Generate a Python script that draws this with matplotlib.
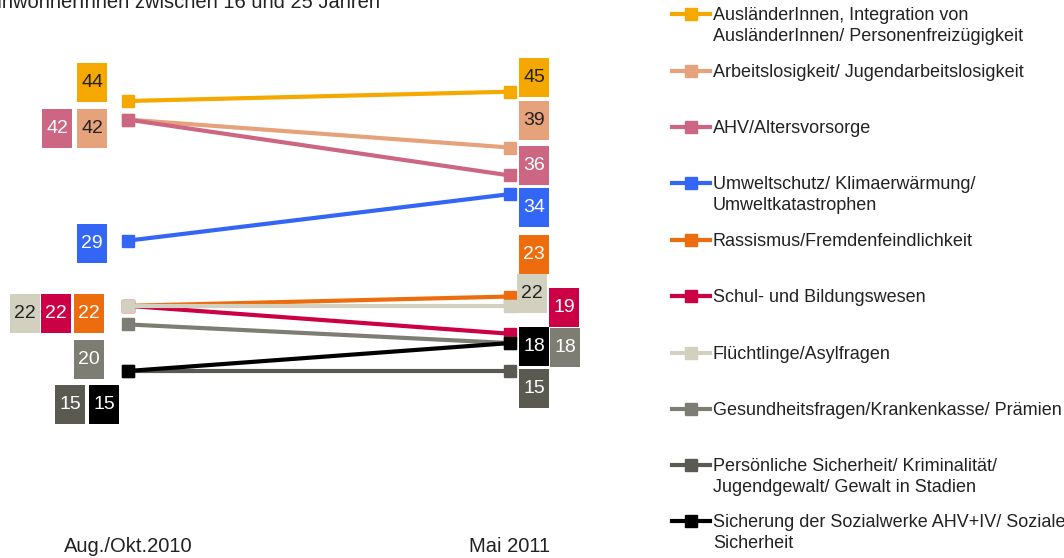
import matplotlib
matplotlib.use('Agg')
from matplotlib import pyplot as plt
from matplotlib.patches import Rectangle
from matplotlib.lines import Line2D

plt.rcParams['font.family'] = ['Liberation Sans', 'DejaVu Sans']

# data
periods = ['Aug./Okt.2010', 'Mai 2011']
topics = ['AusländerInnen, Integration von\nAusländerInnen/ Personenfreizügigkeit',
          'Arbeitslosigkeit/ Jugendarbeitslosigkeit',
          'AHV/Altersvorsorge',
          'Umweltschutz/ Klimaerwärmung/\nUmweltkatastrophen',
          'Rassismus/Fremdenfeindlichkeit',
          'Schul- und Bildungswesen',
          'Flüchtlinge/Asylfragen',
          'Gesundheitsfragen/Krankenkasse/ Prämien',
          'Persönliche Sicherheit/ Kriminalität/\nJugendgewalt/ Gewalt in Stadien',
          'Sicherung der Sozialwerke AHV+IV/ Soziale\nSicherheit']
v2010 = [44, 42, 42, 29, 22, 22, 22, 20, 15, 15]
v2011 = [45, 39, 36, 34, 23, 19, 22, 18, 15, 18]

colors = ['#F5A800', '#E6A27A', '#CC6682', '#3366F5', '#EC6C0E',
          '#CC0044', '#D2D1C0', '#7D7D74', '#5A5A52', '#000000']
txt_col = ['#222', '#222', 'white', 'white', 'white',
           'white', '#222', 'white', 'white', 'white']
# label box offsets in pixels (dx, dy downwards) from the point
off_l = [(-36, -18), (-36, 9), (-71, 9), (-36, 3), (-39, 8),
         (-72, 8), (-103, 8), (-39, 35), (-58, 34), (-24, 34)]
off_r = [(24, -14), (24, -27), (24, -10), (24, 13), (24, -42),
         (54, -26), (22, -12), (55, 4), (24, 18), (24, 3)]
draw_order = [0, 1, 2, 3, 4, 5, 7, 8, 9, 6]
leg_y = [14, 71, 127, 183, 240, 296, 353, 409, 465, 521]

W, H = 1064, 558
fig = plt.figure(figsize=(W / 100, H / 100), dpi=100)
ax = fig.add_axes([0, 0, 1, 1])
ax.axis('off')
sx = 382.0
sy = 9.31
ax.set_xlim(-128 / sx, (W - 128) / sx)
ax.set_ylim(44 - (H - 101) / sy, 44 + 101 / sy)

for i in draw_order:
    ax.plot([0, 1], [v2010[i], v2011[i]], color=colors[i], lw=3, marker='s',
            ms=9, mec=colors[i], zorder=2 + i * 0.01 if i != 6 else 2.5,
            solid_capstyle='butt')

bw, bh = 30, 39
for i in range(len(topics)):
    for x, v, (dx, dy) in [(0, v2010[i], off_l[i]), (1, v2011[i], off_r[i])]:
        cx = x + dx / sx
        cy = v - dy / sy
        ax.add_patch(Rectangle((cx - bw / 2 / sx, cy - bh / 2 / sy), bw / sx, bh / sy,
                               color=colors[i], zorder=4, lw=0))
        ax.text(cx, cy, str(v), color=txt_col[i], fontsize=14,
                ha='center', va='center', zorder=5)

for x, p in zip([0, 1], periods):
    ax.text(x, 44 - (546 - 101) / sy, p, ha='center', va='center',
            fontsize=14.5, color='#222')

fig.text(380 / W, 1 - 8 / H, 'EinwohnerInnen zwischen 16 und 25 Jahren',
         ha='right', va='baseline', fontsize=14.5, color='#222')

# legend
for i, y in enumerate(leg_y):
    fy = 1 - y / H
    fig.add_artist(Line2D([672 / W, 710 / W], [fy, fy], color=colors[i], lw=3))
    fig.add_artist(Line2D([691 / W], [fy], color=colors[i], marker='s', ms=9))
    fig.text(713 / W, 1 - (y - 7) / H, topics[i], ha='left', va='top',
             fontsize=13, color='#222', linespacing=1.3)

fig.savefig('out.png', dpi=100)
